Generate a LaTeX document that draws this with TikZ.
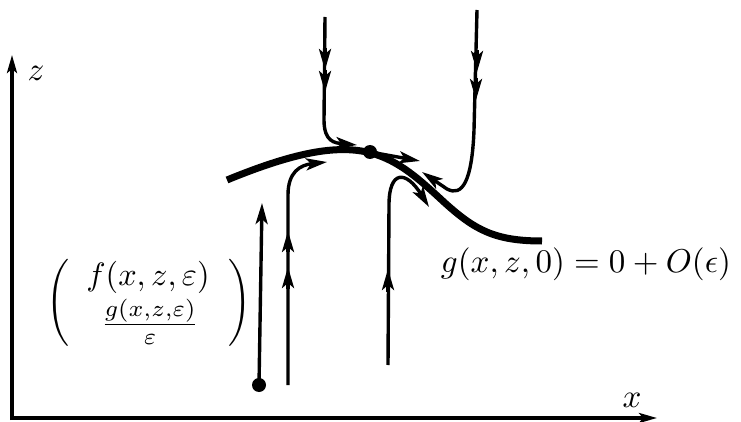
\documentclass[tikz,border=0pt]{standalone}
\usetikzlibrary{arrows.meta}
\begin{document}
\begin{tikzpicture}[x=1pt,y=-1pt,
  tip/.tip={Stealth[length=21pt,width=12pt,inset=5pt]},
  traj/.style={line width=3.4pt,-tip},
  midtip/.style={line width=3.4pt,-tip},
  axis/.style={line width=3.2pt,-{Stealth[length=18pt,width=10pt,inset=4pt]}},
  manifold/.style={line width=7pt},
  lbl/.style={inner sep=0pt,scale=3.3},
  dotc/.style={circle,fill=black,inner sep=0pt,minimum size=14pt}]
\useasboundingbox (0,0) rectangle (741,422);
% axes
\coordinate (O) at (12,418);
\coordinate (ztip) at (12,55);
\coordinate (xtip) at (657,418);
\draw[axis] (12,420) -- (ztip);
\draw[axis] (10.4,418) -- (xtip);
\node[lbl] (zl) at (36,73) {$z$};
\node[lbl] (xl) at (632,400) {$x$};
% slow manifold
\draw[manifold] (227,180) .. controls (300,150) and (340,145) .. (371,153)
  .. controls (400,161) and (420,180) .. (445,203)
  .. controls (475,230) and (495,241) .. (542,241);
\node[dotc] (eq) at (370,152) {};
\draw[traj] (eq.center) -- (420,161);
% trajectory 1
\node[dotc] (start) at (259,385) {};
\draw[traj] (start.center) -- (262,203);
% trajectory 2
\draw[traj] (288,385) -- (288,195) .. controls (288,172) and (300,165) .. (327,162);
\draw[midtip] (288,252) -- (288,231);
\draw[midtip] (288,289) -- (288,267);
% trajectory 3
\draw[traj] (388,365) -- (389,205) .. controls (389,170) and (406,170) .. (429,207);
\draw[midtip] (388,292) -- (388,269);
% trajectory 4 (top left)
\draw[traj] (325,17) -- (324,120) .. controls (324,142) and (335,143) .. (357,145);
\draw[midtip] (325,48) -- (325,70);
\draw[midtip] (325,70) -- (325,92);
% trajectory 5 (top right)
\draw[traj] (477,10) -- (474,130) .. controls (472,182) and (462,197) .. (447,189) -- (422,172);
\draw[midtip] (477,50) -- (477,72);
\draw[midtip] (476,78) -- (476,100);
% labels
\node[lbl] (gl) at (586,264) {$g(x,z,0)=0+O(\epsilon)$};
\node[lbl,scale=0.98] (fx) at (148,277) {$f(x,z,\varepsilon)$};
\node[lbl] (fr) at (150,322) {$\frac{g(x,z,\varepsilon)}{\varepsilon}$};
\node[inner sep=0pt,scale=2.9] (lp) at (58,303) {$\Bigg($};
\node[inner sep=0pt,scale=2.9] (rp) at (240,303) {$\Bigg)$};
\end{tikzpicture}
\end{document}
